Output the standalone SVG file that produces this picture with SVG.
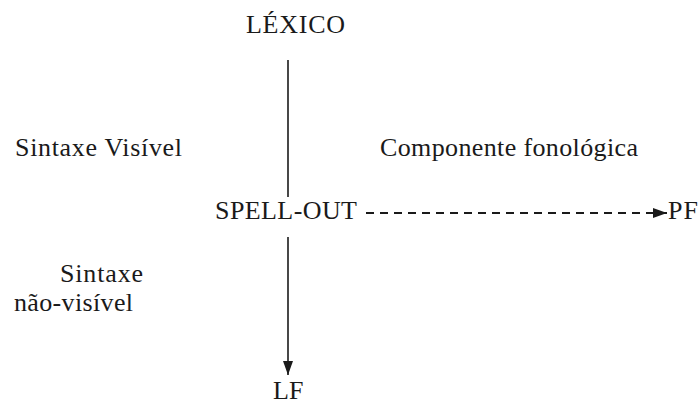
<svg xmlns="http://www.w3.org/2000/svg" width="699" height="405" viewBox="0 0 699 405">
  <style>
    .lbl { font-size: 26px; fill: #1a1a1a; }
    .ln { stroke: #1a1a1a; stroke-width: 1.6; fill: none; }
    .dash { stroke-dasharray: 8 6; stroke-width: 2.2; }
  </style>
  <defs>
    <marker id="head" markerWidth="14" markerHeight="10" refX="14" refY="5" orient="auto" markerUnits="userSpaceOnUse">
      <path d="M0,0 L14,5 L0,10 Z" fill="#1a1a1a"/>
    </marker>
  </defs>
  <rect width="699" height="405" fill="#ffffff"/>

  <g id="connectors">
    <line class="ln" x1="288" y1="60" x2="288" y2="197"/>
    <line class="ln" x1="288" y1="237" x2="288" y2="375" marker-end="url(#head)"/>
    <line class="ln dash" x1="366" y1="213" x2="667" y2="213" marker-end="url(#head)"/>
  </g>

  <g font-family="'Liberation Serif', 'Times New Roman', 'DejaVu Serif', serif">
    <g id="lexico"><text class="lbl" x="246" y="33" textLength="99">LÉXICO</text></g>
    <g id="sintaxe-visivel"><text class="lbl" x="15" y="156" textLength="167">Sintaxe Visível</text></g>
    <g id="componente-fonologica"><text class="lbl" x="380" y="156" textLength="258">Componente fonológica</text></g>
    <g id="spell-out"><text class="lbl" x="215" y="219" textLength="142">SPELL-OUT</text></g>
    <g id="pf"><text class="lbl" x="668" y="219" textLength="30">PF</text></g>
    <g id="sintaxe-nao-visivel">
      <text class="lbl" x="60" y="282" textLength="83">Sintaxe</text>
      <text class="lbl" x="14" y="311" textLength="119">não-visível</text>
    </g>
    <g id="lf"><text class="lbl" x="273" y="399">LF</text></g>
  </g>
</svg>
